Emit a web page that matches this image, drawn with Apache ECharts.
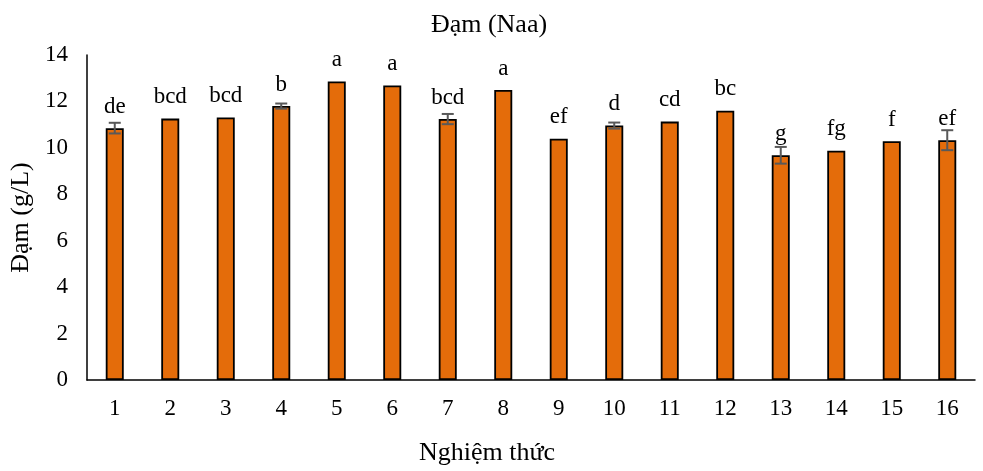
<!DOCTYPE html>
<html><head><meta charset="utf-8">
<script src="https://cdn.jsdelivr.net/npm/echarts@6/dist/echarts.min.js"></script>
<style>html,body{margin:0;padding:0;background:#fff}#c{width:983px;height:471px}</style>
</head><body><div id="c"></div>
<script>
var categories = ['1','2','3','4','5','6','7','8','9','10','11','12','13','14','15','16'];
var values = [10.85, 11.26, 11.31, 11.80, 12.86, 12.69, 11.24, 12.49, 10.39, 10.96, 11.13, 11.60, 9.68, 9.88, 10.29, 10.33];
var errors = [0.23, 0, 0, 0.11, 0, 0, 0.22, 0, 0, 0.13, 0, 0, 0.36, 0, 0, 0.43];
var letters = ['de','bcd','bcd','b','a','a','bcd','a','ef','d','cd','bc','g','fg','f','ef'];
var yTicks = [0, 2, 4, 6, 8, 10, 12, 14];

var font = 'Liberation Serif';
var errData = values.map(function(v, i){ return [i, v - errors[i], v + errors[i]]; }).filter(function(d, i){ return errors[i] > 0; });

var chart = echarts.init(document.getElementById('c'));
chart.setOption({
  animation: false,
  title: { text: 'Đạm (Naa)', left: 484, textAlign: 'center', top: 7,
    textStyle: { fontFamily: font, fontSize: 26, fontWeight: 'normal', color: '#000' } },
  grid: { left: 87, right: 8, top: 55, bottom: 89 },
  xAxis: {
    type: 'category', data: categories,
    name: 'Nghiệm thức', nameLocation: 'middle', nameGap: 60,
    nameTextStyle: { fontFamily: font, fontSize: 26, color: '#000', padding: [0, 88, 0, 0] },
    axisLine: { lineStyle: { color: '#000', width: 1.5 } },
    axisTick: { show: false },
    axisLabel: { fontFamily: font, fontSize: 23, color: '#000', margin: 17 }
  },
  yAxis: {
    type: 'value', min: yTicks[0], max: yTicks[yTicks.length - 1], interval: 2,
    name: 'Đạm (g/L)', nameLocation: 'middle', nameGap: 52,
    nameTextStyle: { fontFamily: font, fontSize: 26, color: '#000' },
    axisLine: { show: true, lineStyle: { color: '#000', width: 1.5 } },
    axisTick: { show: false },
    splitLine: { show: false },
    axisLabel: { fontFamily: font, fontSize: 23, color: '#000', margin: 19 }
  },
  series: [{
    type: 'bar', data: values, barWidth: 18,
    itemStyle: { color: '#E46C0A', borderColor: '#000', borderWidth: 1.8 },
    label: { show: true, position: 'top', distance: 10,
      formatter: function(p){ return letters[p.dataIndex]; },
      fontFamily: font, fontSize: 23, color: '#000' }
  }, {
    type: 'custom', data: errData, z: 10,
    renderItem: function(params, api){
      var x = api.value(0);
      var lo = api.coord([x, api.value(1)]);
      var hi = api.coord([x, api.value(2)]);
      var hw = 6;
      var st = { stroke: '#595959', lineWidth: 2 };
      return { type: 'group', children: [
        { type: 'line', shape: { x1: lo[0], y1: lo[1], x2: hi[0], y2: hi[1] }, style: st },
        { type: 'line', shape: { x1: lo[0]-hw, y1: lo[1], x2: lo[0]+hw, y2: lo[1] }, style: st },
        { type: 'line', shape: { x1: hi[0]-hw, y1: hi[1], x2: hi[0]+hw, y2: hi[1] }, style: st }
      ]};
    }
  }]
});
</script></body></html>
